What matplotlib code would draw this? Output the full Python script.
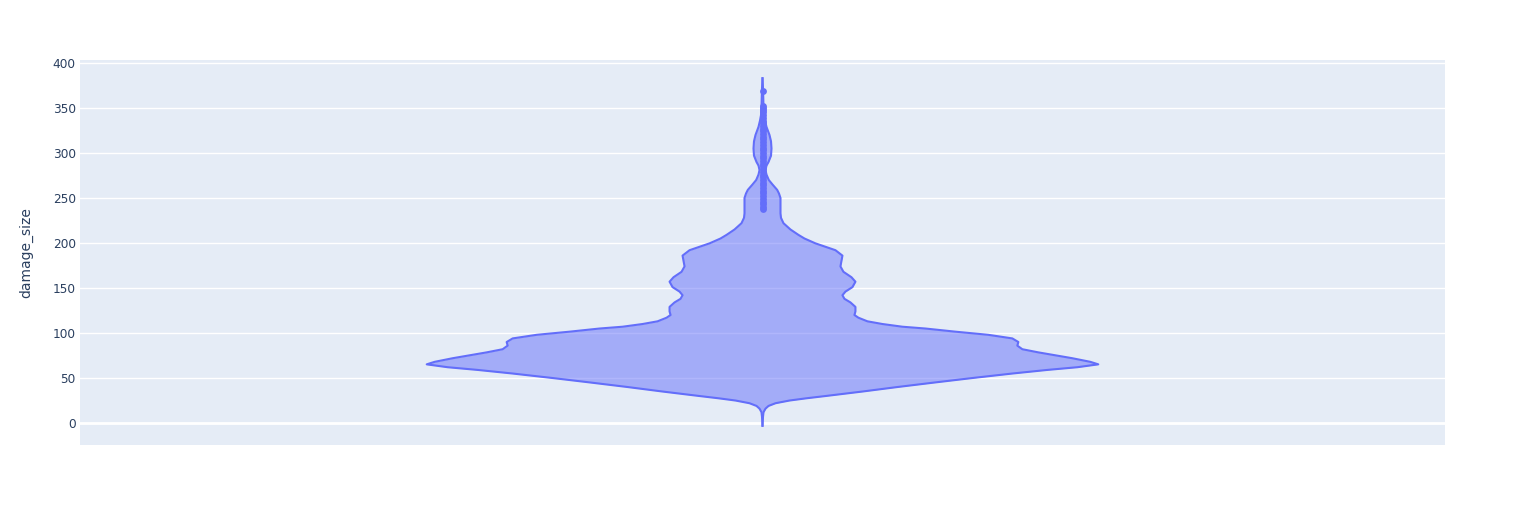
import numpy as np
import matplotlib.pyplot as plt

# violin outline: value -> relative half-width
profile_y = [-3, 7, 12, 16, 19, 22, 25, 27.5, 30, 35, 40, 45, 50, 55, 59, 62, 65.2, 68, 72,
             78.5, 82, 86, 90, 94, 98, 101.5, 105, 107, 110, 113, 117, 120, 124, 129, 134,
             138, 142, 146, 151, 157, 162, 168, 174, 180, 186, 192, 199.6, 205, 209, 215,
             222, 228, 233, 250, 255, 259, 265, 270, 276, 281, 286, 290, 297, 305, 313,
             320, 329, 336, 342, 350, 360, 372, 383]
profile_w = [0, 0.5, 1, 3, 6, 13, 27, 44, 63, 100, 135, 172, 210, 250, 285, 315, 336, 328, 310,
             276, 260, 255, 256, 250, 226, 193, 163, 140, 120, 105, 96, 92, 93, 93, 88,
             82, 80, 83, 90, 93, 89, 81, 78, 79, 80, 73, 53, 42, 36, 28,
             21, 18.5, 18, 18, 16.5, 14.7, 10, 6.3, 4, 3, 4, 6, 8.5, 9, 8.5,
             7, 4, 2.5, 1.5, 1, 0.8, 0.5, 0]

# suspected outliers drawn on the centre line
outliers = [238, 240, 243, 246, 249, 252, 255, 258, 261, 264, 267, 270, 273, 276, 279,
            282, 285, 288, 291, 294, 297, 300, 303, 306, 309, 312, 315, 318, 321, 324,
            327, 330, 333, 336, 339, 342, 345, 348, 350, 352, 369]

violin_color = "#636efa"
half_width = 0.246

fig = plt.figure(figsize=(15.25, 5.25), dpi=100)
ax = fig.add_axes([80 / 1525, 80 / 525, 1365 / 1525, 385 / 525])
ax.set_facecolor("#E5ECF6")

vy = np.array(profile_y, dtype=float)
vw = np.array(profile_w, dtype=float)
vw = vw / vw.max() * half_width

ax.fill_betweenx(vy, -vw, vw, color=violin_color, alpha=0.5, linewidth=0, zorder=3)
ax.plot(vw, vy, color=violin_color, lw=1.5, zorder=4, solid_joinstyle="round")
ax.plot(-vw, vy, color=violin_color, lw=1.5, zorder=4, solid_joinstyle="round")
ax.plot(np.zeros(len(outliers)), outliers, "o", color=violin_color, ms=4.9,
        markeredgewidth=0, zorder=5)

ax.set_xlim(-0.5, 0.5)
ax.set_ylim(-24.4, 403.3)
ax.set_xticks([])
ax.set_yticks(np.arange(0, 401, 50))
ax.grid(axis="y", color="white", lw=1, zorder=1)
ax.axhline(0, color="white", lw=2, zorder=2)
ax.set_axisbelow(True)
for s in ax.spines.values():
    s.set_visible(False)
ax.tick_params(axis="y", length=0, pad=3, labelsize=8.7, labelcolor="#2a3f5f")
ax.set_ylabel("damage_size", fontsize=10, color="#2a3f5f")
ax.yaxis.set_label_coords(-0.034, 0.5)

fig.savefig("out.png", dpi=100, facecolor="white")
